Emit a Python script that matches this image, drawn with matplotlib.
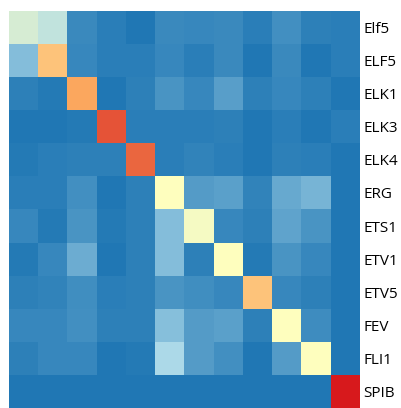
import matplotlib
matplotlib.use("Agg")
import matplotlib.pyplot as plt
import numpy as np
from matplotlib.colors import LinearSegmentedColormap

labels = ["Elf5", "ELF5", "ELK1", "ELK3", "ELK4", "ERG", "ETS1", "ETV1", "ETV5", "FEV", "FLI1", "SPIB"]

row_elf5_l = [0.38, 0.32, 0.05, 0.02, 0.00, 0.05, 0.045, 0.05, 0.02, 0.065, 0.025, 0.02]
row_elf5_u = [0.18, 0.68, 0.045, 0.02, 0.02, 0.045, 0.02, 0.05, 0.00, 0.05, 0.00, 0.02]
row_elk1 = [0.025, 0.01, 0.76, 0.00, 0.025, 0.075, 0.045, 0.105, 0.025, 0.045, 0.025, 0.00]
row_elk3 = [0.00, 0.00, 0.01, 0.90, 0.02, 0.02, 0.02, 0.025, 0.00, 0.02, 0.00, 0.02]
row_elk4 = [0.01, 0.02, 0.025, 0.025, 0.87, 0.02, 0.035, 0.02, 0.00, 0.025, 0.02, 0.00]
row_erg = [0.02, 0.02, 0.065, 0.00, 0.025, 0.50, 0.095, 0.108, 0.035, 0.13, 0.16, 0.00]
row_ets1 = [0.045, 0.01, 0.075, 0.01, 0.025, 0.18, 0.47, 0.045, 0.025, 0.115, 0.075, 0.00]
row_etv1 = [0.01, 0.045, 0.14, 0.00, 0.025, 0.18, 0.025, 0.50, 0.01, 0.075, 0.045, 0.00]
row_etv5 = [0.025, 0.035, 0.06, 0.02, 0.025, 0.075, 0.06, 0.045, 0.68, 0.045, 0.025, 0.00]
row_fev = [0.045, 0.045, 0.065, 0.025, 0.025, 0.185, 0.095, 0.108, 0.025, 0.50, 0.055, 0.00]
row_fli1 = [0.025, 0.045, 0.045, 0.00, 0.01, 0.255, 0.095, 0.065, 0.00, 0.095, 0.50, 0.00]
row_spib = [0.00, 0.00, 0.00, 0.00, 0.00, 0.00, 0.00, 0.00, 0.00, 0.00, 0.00, 1.00]

data = np.array([row_elf5_l, row_elf5_u, row_elk1, row_elk3, row_elk4, row_erg,
                 row_ets1, row_etv1, row_etv5, row_fev, row_fli1, row_spib])

cmap = LinearSegmentedColormap.from_list(
    "rdylbu5", ["#2077b4", "#abd9e9", "#ffffbf", "#fdae61", "#d7191c"])

fig = plt.figure(figsize=(4.01, 4.08), dpi=100)
ax = fig.add_axes([9/401, 0.0, 350/401, 397/408])
ax.imshow(data, cmap=cmap, vmin=0, vmax=1, aspect="auto", interpolation="nearest")
ax.set_xticks([])
ax.yaxis.tick_right()
ax.set_yticks(range(len(labels)))
ax.set_yticklabels(labels, fontsize=11, family="Open Sans")
ax.tick_params(axis="y", length=0, pad=3)
for s in ax.spines.values():
    s.set_visible(False)
fig.savefig("out.png", dpi=100)
